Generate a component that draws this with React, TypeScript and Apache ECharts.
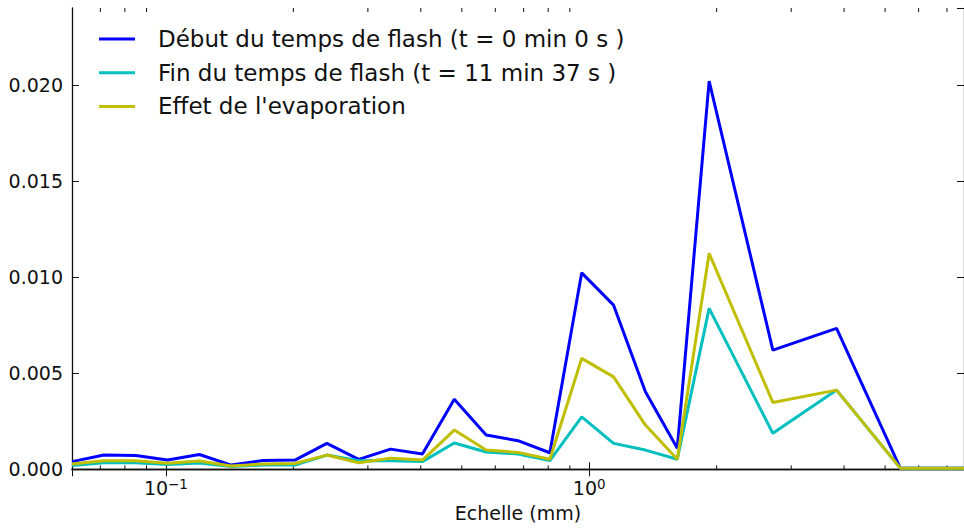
import React, { useEffect, useRef } from "react";
import * as echarts from "echarts";

const seriesNames = [
  "Début du temps de flash (t = 0 min 0 s )",
  "Fin du temps de flash (t = 11 min 37 s )",
  "Effet de l'evaporation",
];

const xValues = [
  0.06, 0.0714, 0.0849, 0.1009, 0.12, 0.1427, 0.1697, 0.2018, 0.24, 0.2854,
  0.3394, 0.4036, 0.48, 0.5708, 0.6788, 0.8072, 0.96, 1.1417, 1.3576, 1.6145,
  1.92, 2.7153, 3.84, 5.4306, 7.68,
];

const debutValues = [
  0.0004, 0.00074, 0.00072, 0.00048, 0.00077, 0.00022, 0.00046, 0.00048,
  0.00135, 0.00052, 0.00105, 0.0008, 0.00365, 0.00178, 0.00149, 0.00086,
  0.01022, 0.00854, 0.00403, 0.00109, 0.0202, 0.0062, 0.00733, 0.00006,
  0.00006,
];

const finValues = [
  0.0002, 0.00034, 0.00034, 0.00025, 0.00033, 0.00015, 0.00022, 0.00022,
  0.00074, 0.00045, 0.00045, 0.0004, 0.00137, 0.0009, 0.0008, 0.00045,
  0.00273, 0.00135, 0.001, 0.00052, 0.00837, 0.00187, 0.00412, 0.00006,
  0.00006,
];

const evapValues = [
  0.00028, 0.00045, 0.00045, 0.00031, 0.00043, 0.00017, 0.00028, 0.0003,
  0.00074, 0.00034, 0.00057, 0.00048, 0.00204, 0.001, 0.00088, 0.00052,
  0.00577, 0.00481, 0.0023, 0.00052, 0.01123, 0.00348, 0.00412, 0.00006,
  0.00006,
];

const minorTickValues = [
  0.07, 0.08, 0.09, 0.2, 0.3, 0.4, 0.5, 0.6, 0.7, 0.8, 0.9, 2, 3, 4, 5, 6, 7,
];

const X_MIN = 0.06;
const X_MAX = 7.68;
const Y_MIN = 0;
const Y_MAX = 0.024;
const Y_STEP = 0.005;

const colors = ["#0000ff", "#00bfbf", "#bfbf00"];

export default function App() {
  const ref = useRef<HTMLDivElement>(null);

  useEffect(() => {
    if (!ref.current) return;
    const chart = echarts.init(ref.current, null, { renderer: "svg" });
    const font = "DejaVu Sans";
    const textColor = "#111";
    const pair = (ys: number[]) => xValues.map((x, i) => [x, ys[i]]);

    const axisLine = { show: true, lineStyle: { color: "#111", width: 1.3 } };
    const tick = {
      show: true,
      inside: true,
      length: 7,
      lineStyle: { color: "#111", width: 1 },
    };

    const xLabelFormatter = (v: number) => {
      const l = Math.log10(v);
      const e = Math.round(l);
      if (Math.abs(l - e) > 1e-6) return "";
      const s = e < 0 ? "\u2212" + Math.abs(e) : String(e);
      return `{b|10}{s|${s}}`;
    };

    const yLabelFormatter = (v: number) => {
      const r = v / Y_STEP;
      if (Math.abs(r - Math.round(r)) > 1e-6) return "";
      return v.toFixed(3);
    };

    const option: any = {
      animation: false,
      backgroundColor: "#ffffff",
      textStyle: { fontFamily: font },
      grid: { left: 72, top: 8, width: 893.5, height: 461.3 },
      legend: {
        data: seriesNames,
        orient: "vertical",
        left: 99,
        top: 26,
        padding: 0,
        itemWidth: 36,
        itemHeight: 3,
        itemGap: 7.7,
        icon: "rect",
        textStyle: {
          fontFamily: font,
          fontSize: 23,
          color: textColor,
          lineHeight: 26,
          padding: [0, 0, 0, 18],
        },
      },
      xAxis: [
        {
          type: "log",
          logBase: 10,
          min: X_MIN,
          max: X_MAX,
          position: "bottom",
          axisLine,
          axisTick: tick,
          minorTick: { show: false },
          splitLine: { show: false },
          name: "Echelle (mm)",
          nameLocation: "middle",
          nameGap: 34,
          nameTextStyle: { fontFamily: font, fontSize: 19, color: textColor },
          axisLabel: {
            show: true,
            margin: 8,
            showMinLabel: false,
            showMaxLabel: false,
            formatter: xLabelFormatter,
            rich: {
              b: {
                fontFamily: font,
                fontSize: 19,
                color: textColor,
                lineHeight: 22,
              },
              s: {
                fontFamily: font,
                fontSize: 13.5,
                color: textColor,
                lineHeight: 10,
                verticalAlign: "top",
              },
            },
          },
        },
        {
          type: "log",
          logBase: 10,
          min: X_MIN,
          max: X_MAX,
          position: "top",
          axisLine,
          axisTick: tick,
          minorTick: { show: false },
          splitLine: { show: false },
          axisLabel: { show: false },
        },
      ],
      yAxis: [
        {
          type: "value",
          min: Y_MIN,
          max: Y_MAX,
          interval: Y_STEP,
          position: "left",
          axisLine,
          axisTick: tick,
          splitLine: { show: false },
          axisLabel: {
            margin: 9,
            showMaxLabel: false,
            formatter: yLabelFormatter,
            fontFamily: font,
            fontSize: 19,
            color: textColor,
          },
        },
        {
          type: "value",
          min: Y_MIN,
          max: Y_MAX,
          interval: Y_STEP,
          position: "right",
          axisLine,
          axisTick: tick,
          splitLine: { show: false },
          axisLabel: { show: false },
        },
      ],
      series: [
        {
          name: seriesNames[0],
          type: "line",
          data: pair(debutValues),
          color: colors[0],
          showSymbol: false,
          symbol: "none",
          lineStyle: { width: 3, color: colors[0] },
          xAxisIndex: 0,
          yAxisIndex: 0,
        },
        {
          name: seriesNames[1],
          type: "line",
          data: pair(finValues),
          color: colors[1],
          showSymbol: false,
          symbol: "none",
          lineStyle: { width: 3, color: colors[1] },
          xAxisIndex: 0,
          yAxisIndex: 0,
        },
        {
          name: seriesNames[2],
          type: "line",
          data: pair(evapValues),
          color: colors[2],
          showSymbol: false,
          symbol: "none",
          lineStyle: { width: 3, color: colors[2] },
          xAxisIndex: 0,
          yAxisIndex: 0,
        },
        {
          type: "custom",
          silent: true,
          xAxisIndex: 0,
          yAxisIndex: 0,
          data: minorTickValues.map((v) => [v, 0]),
          renderItem: (params: any, api: any) => {
            const x = api.value(0);
            const b = api.coord([x, Y_MIN]);
            const t = api.coord([x, Y_MAX]);
            return {
              type: "group",
              children: [
                {
                  type: "line",
                  shape: { x1: b[0], y1: b[1], x2: b[0], y2: b[1] - 4 },
                  style: { stroke: "#111", lineWidth: 1 },
                },
                {
                  type: "line",
                  shape: { x1: t[0], y1: t[1], x2: t[0], y2: t[1] + 4 },
                  style: { stroke: "#111", lineWidth: 1 },
                },
              ],
            };
          },
        },
      ],
    };

    chart.setOption(option);
    return () => chart.dispose();
  }, []);

  return (
    <div
      ref={ref}
      style={{ position: "fixed", left: 0, top: 0, width: 964, height: 529 }}
    />
  );
}
